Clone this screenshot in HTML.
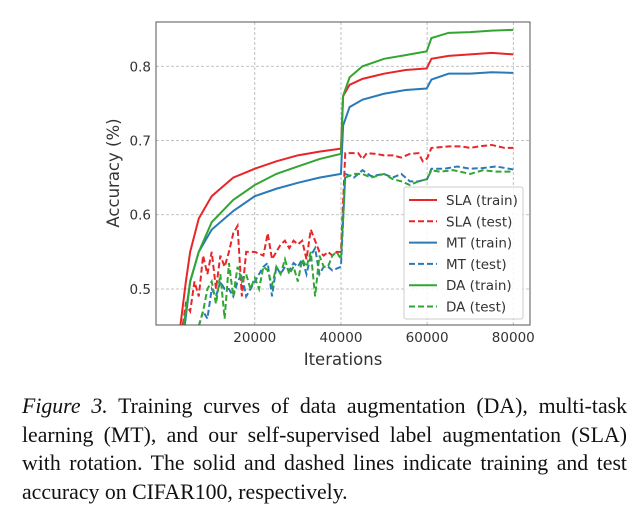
<!DOCTYPE html>
<html><head><meta charset="utf-8"><style>
body{margin:0;background:#fff;width:644px;height:512px;overflow:hidden;position:relative}
svg text{font-family:"DejaVu Sans","Liberation Sans",sans-serif;fill:#333}
.cap{position:absolute;left:22px;top:392px;width:605px;white-space:nowrap;font-family:"Liberation Serif",serif;font-size:21.8px;line-height:28.5px;color:#111}
.cap .j{display:block;text-align:justify;text-align-last:justify}
</style></head><body>
<svg id="chart" width="644" height="380" style="position:absolute;left:0;top:0"></svg>
<div class="cap"><span class="j"><i>Figure 3.</i> Training curves of data augmentation (DA), multi-task</span><span class="j">learning (MT), and our self-supervised label augmentation (SLA)</span><span class="j">with rotation. The solid and dashed lines indicate training and test</span>accuracy on CIFAR100, respectively.</div>
<script>
const xTicks=[20000,40000,60000,80000];
const yTicks=[0.5,0.6,0.7,0.8];
const slaTrain=[[2500,0.44],[4000,0.51],[5000,0.55],[7000,0.595],[10000,0.625],[13000,0.64],[15000,0.65],[20000,0.662],[25000,0.672],[30000,0.68],[35000,0.685],[40000,0.689],[40500,0.76],[42000,0.775],[45000,0.783],[50000,0.79],[55000,0.795],[59900,0.797],[61000,0.81],[65000,0.814],[70000,0.816],[75000,0.818],[80000,0.816]];
const daTrain=[[3000,0.43],[5000,0.51],[7000,0.55],[10000,0.59],[15000,0.62],[20000,0.64],[25000,0.655],[30000,0.665],[35000,0.675],[40000,0.682],[40500,0.76],[42000,0.785],[45000,0.8],[50000,0.81],[55000,0.815],[59900,0.82],[61000,0.838],[65000,0.845],[70000,0.846],[75000,0.848],[80000,0.849]];
const mtTrain=[[3300,0.43],[5000,0.51],[7000,0.55],[10000,0.58],[15000,0.605],[20000,0.625],[25000,0.635],[30000,0.643],[35000,0.65],[40000,0.655],[40500,0.72],[42000,0.745],[45000,0.755],[50000,0.763],[55000,0.768],[59900,0.77],[61000,0.782],[65000,0.79],[70000,0.79],[75000,0.792],[80000,0.791]];
const slaTest=[[3000,0.44],[4000,0.48],[5000,0.47],[6000,0.51],[7000,0.49],[8000,0.545],[9000,0.52],[10000,0.55],[11000,0.5],[12000,0.545],[13000,0.53],[14000,0.55],[15000,0.575],[16000,0.585],[17000,0.49],[18000,0.55],[20000,0.55],[22000,0.545],[23000,0.575],[24000,0.54],[25000,0.55],[26000,0.56],[27000,0.565],[28000,0.555],[29000,0.565],[30000,0.56],[31000,0.565],[32000,0.54],[33000,0.58],[34000,0.565],[35000,0.55],[36000,0.545],[37000,0.55],[38000,0.545],[39000,0.55],[40000,0.55],[41000,0.683],[44000,0.683],[45000,0.675],[46000,0.683],[48000,0.682],[50000,0.68],[52000,0.68],[54000,0.677],[56000,0.682],[58000,0.683],[59000,0.672],[60000,0.676],[61000,0.69],[65000,0.692],[68000,0.692],[70000,0.69],[72000,0.692],[75000,0.694],[78000,0.69],[80000,0.69]];
const mtTest=[[7000,0.45],[8000,0.47],[9000,0.46],[10000,0.5],[11000,0.49],[12000,0.51],[13000,0.5],[14000,0.5],[15000,0.49],[16000,0.51],[17000,0.52],[18000,0.49],[19000,0.5],[20000,0.51],[21000,0.52],[22000,0.53],[23000,0.535],[24000,0.49],[25000,0.53],[26000,0.52],[27000,0.53],[28000,0.525],[29000,0.535],[30000,0.53],[31000,0.54],[32000,0.52],[33000,0.545],[34000,0.555],[35000,0.52],[36000,0.53],[37000,0.53],[38000,0.525],[40000,0.53],[41000,0.655],[43000,0.65],[45000,0.66],[47000,0.652],[50000,0.655],[52000,0.65],[54000,0.655],[56000,0.645],[58000,0.645],[60000,0.648],[61000,0.662],[64000,0.662],[67000,0.665],[70000,0.662],[73000,0.663],[76000,0.665],[80000,0.661]];
const daTest=[[7000,0.45],[8000,0.47],[9000,0.5],[10000,0.51],[11000,0.48],[12000,0.52],[13000,0.46],[14000,0.535],[15000,0.49],[16000,0.53],[17000,0.51],[18000,0.52],[19000,0.5],[20000,0.515],[21000,0.5],[22000,0.53],[23000,0.525],[24000,0.505],[25000,0.53],[26000,0.52],[27000,0.54],[28000,0.52],[29000,0.53],[30000,0.51],[31000,0.54],[32000,0.53],[33000,0.55],[34000,0.49],[35000,0.545],[36000,0.53],[37000,0.53],[38000,0.545],[39000,0.55],[40000,0.54],[41000,0.65],[43000,0.655],[45000,0.655],[47000,0.65],[50000,0.655],[52000,0.648],[54000,0.645],[56000,0.64],[58000,0.645],[60000,0.648],[61000,0.66],[63000,0.658],[66000,0.66],[70000,0.655],[73000,0.66],[76000,0.658],[80000,0.658]];
const legendLabels=["SLA (train)","SLA (test)","MT (train)","MT (test)","DA (train)","DA (test)"];

const L=156,R=530,T=22,B=325,XMIN=-2930,XMAX=83880,YMIN=0.4515,YMAX=0.8596;
const sx=v=>L+(v-XMIN)/(XMAX-XMIN)*(R-L);
const sy=v=>B-(v-YMIN)/(YMAX-YMIN)*(B-T);
const svg=document.getElementById('chart');
const NS='http://www.w3.org/2000/svg';
function mk(tag,attrs,parent){const e=document.createElementNS(NS,tag);for(const k in attrs)e.setAttribute(k,attrs[k]);(parent||svg).appendChild(e);return e;}
const defs=mk('defs',{});const cp=mk('clipPath',{id:'clip'},defs);mk('rect',{x:L,y:T,width:R-L,height:B-T},cp);
xTicks.forEach(t=>{
 const g=mk('line',{x1:sx(t),x2:sx(t),y1:T,y2:B,stroke:'#b0b0b0','stroke-width':0.8,'stroke-dasharray':'3,2'});
 
 
 const tx=mk('text',{x:sx(t),y:B+17,'text-anchor':'middle','font-size':13.5});tx.textContent=t;
 
 
});
yTicks.forEach(t=>{
 const g=mk('line',{x1:L,x2:R,y1:sy(t),y2:sy(t),stroke:'#b0b0b0','stroke-width':0.8,'stroke-dasharray':'3,2'});
 
 
 const tx=mk('text',{x:L-5,y:sy(t)+5,'text-anchor':'end','font-size':13.5});tx.textContent=t.toFixed(1);
 
 
});
const series=[[slaTrain,'#e8262a',false,'sla-train-line'],[slaTest,'#e8262a',true,'sla-test-line'],[mtTrain,'#2a7ab8',false,'mt-train-line'],[mtTest,'#2a7ab8',true,'mt-test-line'],[daTrain,'#33a532',false,'da-train-line'],[daTest,'#33a532',true,'da-test-line']];
const order=[1,3,5,2,0,4];
order.forEach(i=>{const [d,c,dash,name]=series[i];
 const p=mk('polyline',{points:d.map(q=>sx(q[0])+','+sy(q[1])).join(' '),fill:'none',stroke:c,'stroke-width':2,'clip-path':'url(#clip)'});
 if(dash)p.setAttribute('stroke-dasharray','6,3');
 
 
});
const frame=mk('rect',{x:L,y:T,width:R-L,height:B-T,fill:'none',stroke:'#555','stroke-width':1});


const lg=mk('g',{});


mk('rect',{x:404,y:187,width:119,height:132,fill:'#fff','fill-opacity':0.85,stroke:'#ccc',rx:2},lg);
legendLabels.forEach((lab,i)=>{const y=200+i*21.3;const [,c,dash]=series[i];
 const l=mk('line',{x1:409,x2:437,y1:y,y2:y,stroke:c,'stroke-width':2},lg);if(dash)l.setAttribute('stroke-dasharray','6,3');
 const t=mk('text',{x:446,y:y+5,'font-size':13.5},lg);t.textContent=lab;
 
 
});
const xl=mk('text',{x:343,y:365,'text-anchor':'middle','font-size':16.5});xl.textContent='Iterations';


const yl=mk('text',{x:0,y:0,'text-anchor':'middle','font-size':16.5,transform:'translate(119,173) rotate(-90)'});yl.textContent='Accuracy (%)';


</script>
</body></html>
